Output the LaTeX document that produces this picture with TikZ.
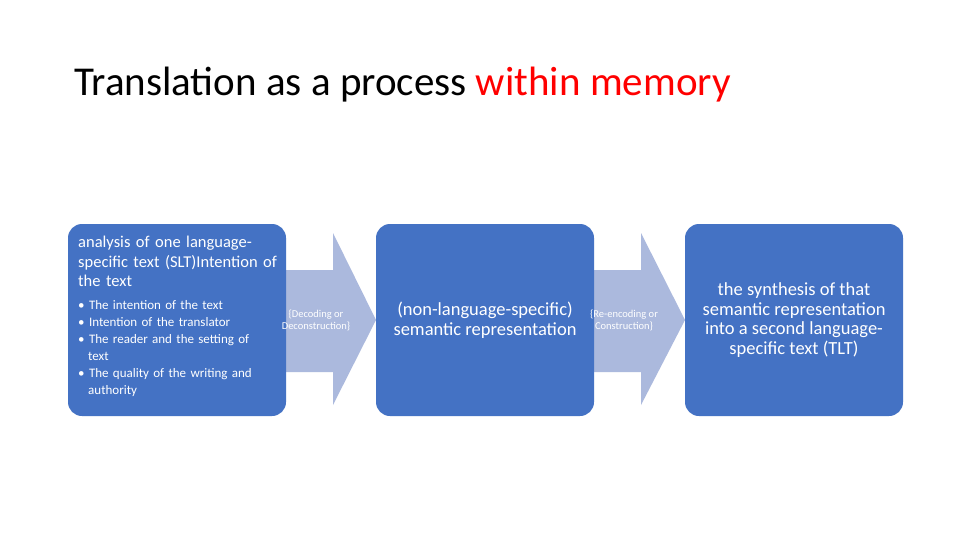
\documentclass[tikz,border=0pt]{standalone}
\usepackage{fontspec}
\setmainfont{Carlito}
\begin{document}
\begin{tikzpicture}[x=1pt,y=-1pt,
  blk/.style={fill={rgb,255:red,68;green,114;blue,196}, rounded corners=14pt},
  arr/.style={fill={rgb,255:red,171;green,185;blue,221}},
  small/.style={text=white, font=\fontsize{10.5}{12}\selectfont, align=center, inner sep=0}]
\useasboundingbox[fill=white] (0,0) rectangle (960,540);
\node[anchor=base west, font=\fontsize{41}{48}\selectfont, inner sep=0] (title) at (74,96) {Translation as a process \textcolor{red}{within memory}};
\fill[arr] (277,270) -- (333,270) -- (333,233) -- (376,320) -- (333,405) -- (333,372) -- (277,372) -- cycle;
\fill[arr] (585,270) -- (641,270) -- (641,233) -- (685,320) -- (641,405) -- (641,372) -- (585,372) -- cycle;
\fill[blk] (68,224) rectangle (286,416);
\fill[blk] (376,224) rectangle (594,416);
\fill[blk] (685,224) rectangle (903,416);
\node[anchor=north west, text=white, align=left, font=\fontsize{16.5}{19.5}\selectfont, inner sep=0, text width=205pt] (t1) at (78,236) {analysis of one language-specific text (SLT)Intention of the text};
\node[anchor=north west, text=white, align=left, font=\fontsize{13}{17}\selectfont, inner sep=0, text width=200pt] (t1b) at (78,300) {%
\textbullet\ The intention of the text\\
\textbullet\ Intention of the translator\\
\textbullet\ The reader and the setting of\\\hspace*{10pt}text\\
\textbullet\ The quality of the writing and\\\hspace*{10pt}authority};
\node[small] (d1) at (316,320) {\{Decoding or\\Deconstruction\}};
\node[small] (d2) at (624,320) {\{Re-encoding or\\Construction\}};
\node[text=white, align=center, font=\fontsize{18.5}{19.5}\selectfont] (t2) at (485,320) {(non-language-specific)\\semantic representation};
\node[text=white, align=center, font=\fontsize{18.5}{19.5}\selectfont] (t3) at (794,320) {the synthesis of that\\semantic representation\\into a second language-\\specific text (TLT)};
\end{tikzpicture}
\end{document}
